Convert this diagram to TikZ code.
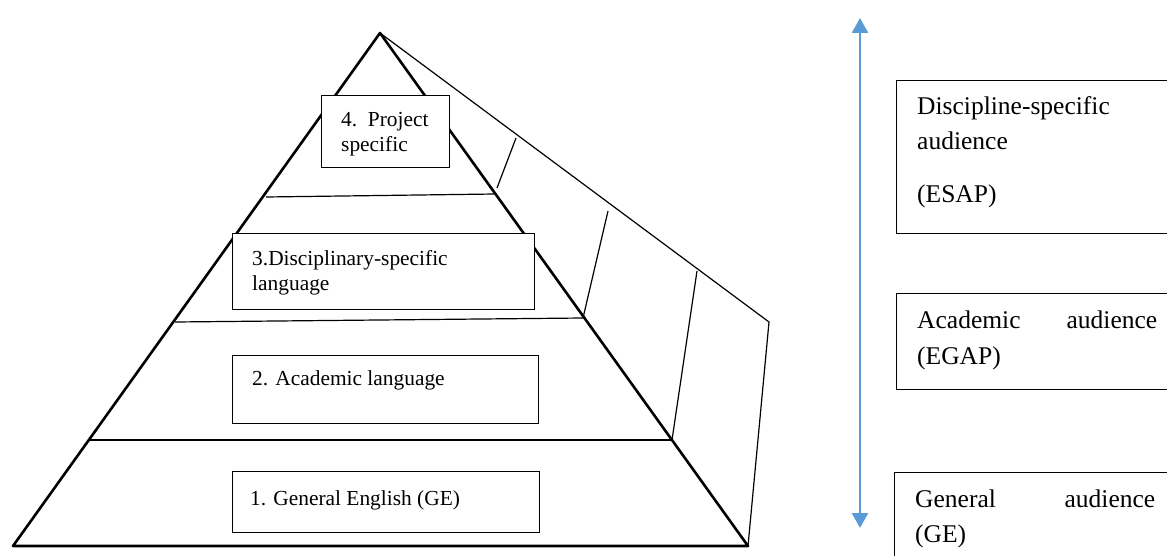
\documentclass[tikz,border=0pt]{standalone}
\usepackage{fontspec}
\setmainfont{Liberation Serif}
\usetikzlibrary{arrows.meta}
\definecolor{arrowblue}{HTML}{5B9BD5}
\tikzset{
  thickedge/.style={line width=2.6pt, line join=round},
  thinedge/.style={line width=1.2pt},
  boxshape/.style={draw, fill=white, line width=1.2pt, rectangle, inner sep=0pt, anchor=north west},
  pyrtext/.style={font=\fontsize{21.4}{26}\selectfont, anchor=base west, inner sep=0pt},
  audtext/.style={font=\fontsize{25.5}{30}\selectfont, anchor=base west, inner sep=0pt},
}
\begin{document}
\begin{tikzpicture}[x=1pt,y=-1pt]
\useasboundingbox (0,0) rectangle (1167,556);
\clip (0,0) rectangle (1167,556);
% pyramid corners
\coordinate (apex) at (380,33);
\coordinate (bl) at (13,546);
\coordinate (br) at (748,546);
\coordinate (far) at (769,322);
% side face
\draw[thinedge] (apex) -- (far) -- (br);
% divider end points
\coordinate (d1l) at (266,197); \coordinate (d1r) at (495,194);
\coordinate (d2l) at (175,322); \coordinate (d2r) at (583,318);
\coordinate (d3l) at (90,440);  \coordinate (d3r) at (672,440);
\draw[thinedge] (d1l) -- (d1r);
\draw[thinedge] (d2l) -- (d2r);
\draw[thinedge] (d3l) -- (d3r);
% slanted side lines
\coordinate (s1a) at (497,188); \coordinate (s1b) at (516,138);
\coordinate (s2a) at (583,318); \coordinate (s2b) at (608,211);
\coordinate (s3a) at (672,440); \coordinate (s3b) at (697,271);
\draw[thinedge] (s1a) -- (s1b);
\draw[thinedge] (s2a) -- (s2b);
\draw[thinedge] (s3a) -- (s3b);
% main triangle
\draw[thickedge] (bl) -- (apex) -- (br) -- cycle;
% pyramid boxes
\node[boxshape, minimum width=128pt, minimum height=72pt] (b4) at (321,95) {};
\node[pyrtext] (t4a) at (341,127) {4.\ \ Project};
\node[pyrtext] (t4b) at (341,152) {specific};
\node[boxshape, minimum width=302pt, minimum height=76pt] (b3) at (232,233) {};
\node[pyrtext] (t3a) at (252,265) {3.Disciplinary-specific};
\node[pyrtext] (t3b) at (252,290) {language};
\node[boxshape, minimum width=306pt, minimum height=68pt] (b2) at (232,355) {};
\node[pyrtext] (t2) at (252,385) {2. Academic language};
\node[boxshape, minimum width=307pt, minimum height=61pt] (b1) at (232,471) {};
\node[pyrtext] (t1) at (250,505) {1. General English (GE)};
% arrow
\coordinate (atop) at (860,18);
\coordinate (abot) at (860,528);
\draw[arrowblue, line width=2.4pt, {Triangle[width=16pt,length=15pt]}-{Triangle[width=16pt,length=15pt]}] (abot) -- (atop);
% audience boxes
\node[boxshape, minimum width=290pt, minimum height=153pt] (r3) at (896,80) {};
\node[audtext] (r3a) at (917,115) {Discipline-specific};
\node[audtext] (r3b) at (917,150) {audience};
\node[audtext] (r3c) at (917,203) {(ESAP)};
\node[boxshape, minimum width=290pt, minimum height=96pt] (r2) at (896,293) {};
\node[audtext] (r2a) at (917,328) {\makebox[240pt][s]{Academic audience}};
\node[audtext] (r2b) at (917,364) {(EGAP)};
\node[boxshape, minimum width=290pt, minimum height=120pt] (r1) at (894,472) {};
\node[audtext] (r1a) at (915,507) {\makebox[240pt][s]{General audience}};
\node[audtext] (r1b) at (915,542) {(GE)};
\end{tikzpicture}
\end{document}
